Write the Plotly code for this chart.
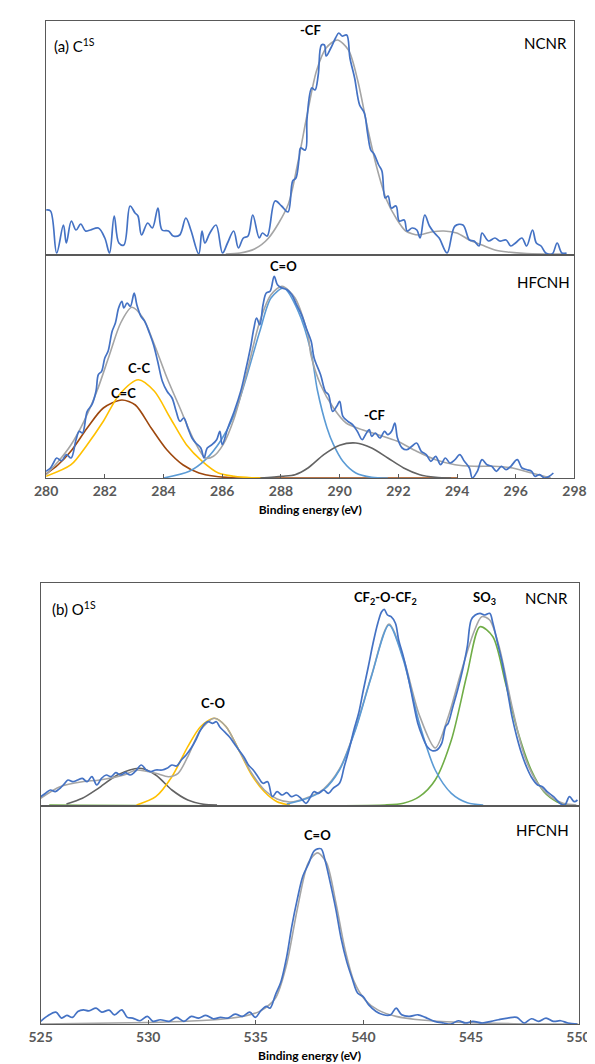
import plotly.graph_objects as go

# ---------------- (a) C1s, NCNR ----------------
a1_E = [280.0, 280.15, 280.36, 280.59, 280.69, 280.86, 281.02, 281.18, 281.34, 281.51, 281.78, 282.0,
        282.16, 282.32, 282.48, 282.65, 282.86, 283.03, 283.13, 283.25, 283.46, 283.62, 283.81, 283.95,
        284.17, 284.33, 284.55, 284.76, 284.93, 285.2, 285.31, 285.41, 285.58, 285.79, 286.01, 286.18,
        286.39, 286.55, 286.72, 286.88, 287.04, 287.26, 287.37, 287.53, 287.8, 288.02, 288.24, 288.4,
        288.51, 288.62, 288.67, 288.83, 288.89, 289.05, 289.16, 289.27, 289.38, 289.48, 289.54, 289.7,
        289.86, 289.97, 290.08, 290.24, 290.35, 290.51, 290.68, 290.84, 290.95, 291.06, 291.17, 291.33,
        291.44, 291.55, 291.65, 291.76, 291.92, 292.03, 292.2, 292.3, 292.47, 292.63, 292.74, 292.9,
        293.06, 293.23, 293.39, 293.66, 293.93, 294.2, 294.42, 294.58, 294.75, 294.85, 295.07, 295.29,
        295.45, 295.67, 295.83, 295.99, 296.21, 296.37, 296.57, 296.7, 296.86, 297.02, 297.24, 297.41,
        297.57, 297.73]
a1_I = [44, 43, 1, 29, 11, 33, 24, 30, 23, 24, 26, 16,
        1, 38, 11, 9, 48, 41, 38, 19, 31, 26, 46, 24,
        23, 18, 19, 36, 24, 0, 23, 11, 21, 29, 1, 11,
        23, 6, 16, 18, 39, 16, 21, 18, 53, 48, 42, 73,
        76, 96, 106, 104, 136, 166, 164, 179, 209, 209, 198, 206,
        216, 221, 218, 219, 196, 176, 149, 141, 121, 104, 100, 89,
        83, 56, 58, 46, 48, 33, 34, 23, 26, 24, 16, 39,
        28, 21, 16, 1, 28, 29, 14, 13, 8, 21, 13, 16,
        13, 14, 8, 11, 16, 8, 24, 11, 8, 1, 0, 11,
        1, 1]
a1_fit_E = [286.12, 286.61, 287.1, 287.58, 288.24, 288.56, 288.89, 289.21, 289.54, 289.92, 290.3,
            290.62, 290.95, 291.27, 291.6, 291.92, 292.25, 292.69, 293.12, 293.55, 293.99, 294.42,
            294.85, 295.29, 295.72, 296.37, 297.68]
a1_fit_I = [0, 1, 5, 16, 49, 89, 139, 183, 206, 214, 204,
            173, 126, 86, 54, 36, 23, 19, 22, 23, 21, 14,
            9, 4, 2, 0.5, 0]

# ---------------- (a) C1s, HFCNH ----------------
a2_E = [280.0, 280.15, 280.25, 280.36, 280.53, 280.69, 280.85, 281.02, 281.13, 281.24, 281.4, 281.56,
        281.7, 281.78, 281.89, 282.0, 282.11, 282.25, 282.36, 282.47, 282.58, 282.65, 282.76, 282.87,
        283.0, 283.09, 283.23, 283.36, 283.52, 283.66, 283.8, 283.96, 284.12, 284.29, 284.43, 284.56,
        284.69, 284.83, 284.97, 285.1, 285.27, 285.38, 285.49, 285.65, 285.81, 285.92, 286.0, 286.19,
        286.41, 286.63, 286.79, 286.96, 287.08, 287.17, 287.28, 287.39, 287.5, 287.63, 287.77, 287.88,
        288.04, 288.21, 288.37, 288.53, 288.7, 288.86, 289.03, 289.13, 289.35, 289.51, 289.62, 289.76,
        289.9, 290.0, 290.11, 290.28, 290.44, 290.6, 290.77, 290.88, 291.01, 291.09, 291.22, 291.37,
        291.53, 291.64, 291.77, 291.88, 291.97, 292.13, 292.29, 292.46, 292.62, 292.78, 292.95, 293.11,
        293.27, 293.44, 293.6, 293.76, 293.93, 294.09, 294.25, 294.42, 294.52, 294.69, 294.85, 295.02,
        295.18, 295.34, 295.51, 295.67, 295.83, 296.05, 296.21, 296.38, 296.54, 296.65, 296.81, 296.98,
        297.14, 297.28]
a2_I = [6.7, 10, 15, 20, 17.3, 23.3, 20, 38.3, 46.7, 45, 66.7, 73.3,
        86.7, 103.3, 106.7, 120, 126.7, 146.7, 155, 170, 176.7, 170, 175, 171.7,
        185, 173.3, 161.7, 156.7, 145, 133.3, 116.7, 96.7, 86.7, 80, 66.7, 56.7,
        60, 50, 40, 35, 30, 20, 30, 33.3, 38.3, 46.7, 33.3, 50,
        66.7, 86.7, 106.7, 130, 150, 160, 153.3, 173.3, 185, 186.7, 201.7, 193.3,
        190, 188.3, 183.3, 173.3, 163.3, 150, 136.7, 120, 103.3, 86.7, 83.3, 66.7,
        71.7, 76.7, 61.7, 56.7, 53.3, 46.7, 38.3, 43.3, 48.3, 41.7, 45, 40,
        46.7, 43.3, 46.7, 55, 40, 30, 28.3, 31.7, 35, 26.7, 23.3, 16.7,
        21.7, 13.3, 20, 15, 18.3, 23.3, 16.7, 10, 0, 6.7, 18.3, 13.3,
        11.7, 6.7, 11.7, 8.3, 11.7, 18.3, 10, 8.3, 6.7, 1.7, 3.3, 0,
        1.7, 5]
a2_fit_E = [280.0, 280.42, 280.85, 281.29, 281.73, 282.16, 282.54, 282.92, 283.3, 283.69, 284.12,
            284.56, 285.0, 285.43, 285.7, 286.03, 286.41, 286.85, 287.28, 287.66, 288.04, 288.48,
            288.92, 289.02, 289.35, 289.79, 290.22, 290.77, 291.31, 291.97, 292.62, 293.27, 293.93,
            294.58, 295.23, 295.89, 296.54, 297.19]
a2_fit_I = [3.3, 16.7, 33.3, 56.7, 86.7, 123.3, 155, 170.7, 160, 133.3, 100,
            70, 40, 20, 21.7, 33.3, 60, 106.7, 156.7, 183.3, 191.7, 180,
            143.3, 123.3, 93.3, 70, 55, 48.3, 43.3, 36.7, 26.7, 18.3, 13.3,
            11.7, 11.7, 10, 5, 0]
a2_CeqC_E = [280.0, 280.4, 280.85, 281.4, 281.95, 282.58, 283.04, 283.58, 284.12, 284.67, 285.21,
             285.75, 286.3, 287.0, 294.0]
a2_CeqC_I = [4, 13, 27, 50, 70, 78, 73, 50, 28, 13, 5,
             1.7, 0.3, 0, 0]
a2_CC_E = [280.0, 280.85, 281.4, 281.95, 282.49, 283.14, 283.69, 284.23, 284.78, 285.32, 285.87,
           286.41, 287.0, 287.6]
a2_CC_I = [1.7, 13.3, 33.3, 56.7, 83.3, 98.3, 86.7, 60, 33.3, 16.7, 5,
           1.7, 0.3, 0]
a2_CO_E = [284.0, 284.88, 285.43, 285.97, 286.41, 286.85, 287.28, 287.66, 288.1, 288.59, 289.02,
           289.24, 289.57, 289.79, 290.11, 290.55, 291.09, 291.64]
a2_CO_I = [0, 6.7, 18.3, 38.3, 63.3, 103.3, 146.7, 180, 190, 166.7, 126.7,
           88, 50, 33.3, 16.7, 5, 0.7, 0]
a2_CF_E = [287.3, 288.04, 288.48, 288.92, 289.46, 290.0, 290.55, 291.09, 291.64, 292.18, 292.73,
           293.27, 293.8]
a2_CF_I = [0, 1.7, 3.3, 10, 23.3, 32.7, 35, 30, 20, 10, 3.3,
           0.7, 0]

# ---------------- (b) O1s, NCNR ----------------
b1_E = [525.0, 525.23, 525.45, 525.68, 525.9, 526.12, 526.27, 526.49, 526.72, 526.94, 527.16, 527.38,
        527.61, 527.83, 528.05, 528.27, 528.49, 528.72, 528.94, 529.16, 529.39, 529.68, 529.91, 530.13,
        530.35, 530.65, 530.87, 531.1, 531.32, 531.54, 531.76, 531.99, 532.21, 532.43, 532.65, 532.8,
        532.99, 533.17, 533.32, 533.54, 533.77, 533.99, 534.21, 534.44, 534.66, 534.88, 535.1, 535.33,
        535.55, 535.77, 535.99, 536.22, 536.44, 536.66, 536.88, 537.1, 537.33, 537.55, 537.7, 537.92,
        538.15, 538.37, 538.59, 538.89, 539.11, 539.33, 539.56, 539.78, 540.0, 540.23, 540.45, 540.67,
        540.85, 540.97, 541.12, 541.29, 541.49, 541.64, 541.86, 542.08, 542.3, 542.53, 542.75, 542.97,
        543.2, 543.42, 543.64, 543.82, 543.94, 544.16, 544.38, 544.61, 544.83, 545.01, 545.2, 545.42,
        545.65, 545.87, 546.02, 546.24, 546.46, 546.69, 546.91, 547.13, 547.35, 547.58, 547.8, 548.1,
        548.32, 548.54, 548.84, 549.14, 549.36, 549.58, 549.8, 549.95]
b1_I = [8.3, 11.7, 15, 13.3, 16.7, 21.7, 25, 23.3, 25, 26.7, 23.3, 28.3,
        20, 26.7, 30, 28.3, 32.3, 30, 32.3, 30, 33.3, 40, 35, 33.3,
        35, 35, 36.7, 40, 39, 45, 50, 56.7, 65, 75, 81.7, 83.3,
        81.7, 83.3, 78.3, 73.3, 68.3, 61.7, 55, 48.3, 40, 35, 28.3, 21.7,
        23.3, 8.3, 13.3, 10, 12.3, 8.3, 10, 6.7, 1.7, 8.3, 13.3, 11.7,
        15, 11.7, 16.7, 21.7, 38.3, 55, 75, 91.7, 115, 138.3, 161.7, 181.7,
        193.3, 195.7, 190, 188.3, 181.7, 165, 148.3, 128.3, 105, 81.7, 68.3, 58.3,
        54.3, 55, 61.7, 78.3, 81.7, 98.3, 115, 135, 158.3, 185, 190, 191.7,
        190, 191.7, 181.7, 161.7, 141.7, 115, 88.3, 68.3, 51.7, 38.3, 28.3, 20,
        18.3, 13.3, 8.3, 1.7, 0, 8.3, 3.3, 5]
b1_fit_E = [525.0, 525.9, 526.94, 527.75, 528.87, 529.46, 530.35, 530.94, 531.39, 531.84, 532.43,
            533.07, 533.62, 534.21, 534.81, 535.4, 535.99, 536.59, 537.41, 538.15, 538.89, 539.63,
            540.37, 541.19, 541.86, 542.6, 543.34, 543.94, 544.53, 545.12, 545.5, 545.87, 546.31,
            546.91, 547.5, 548.1, 548.69, 549.28, 549.9]
b1_fit_I = [6.7, 18.3, 23.3, 25, 30, 35, 31.7, 28.3, 31.7, 48.3, 75,
            86.7, 78.3, 55, 31.7, 15, 6, 3, 7.5, 16, 36, 76,
            129, 181, 147, 90, 57, 88, 132, 172, 188.3, 185, 158.3,
            98.3, 48.3, 21.7, 8.3, 1.7, 0]
b1_peak1_E = [526.2, 526.94, 527.68, 528.57, 529.61, 530.35, 531.1, 531.84, 532.58, 533.2]
b1_peak1_I = [1, 6.7, 16.7, 30, 36.7, 30, 15, 5, 0.7, 0]
b1_CO_E = [529.46, 530.35, 531.1, 531.84, 532.43, 533.07, 533.62, 534.21, 534.81, 535.4, 535.99,
           536.59]
b1_CO_I = [0, 8.3, 28.3, 58.3, 78.3, 86.7, 78.3, 55, 30, 13.3, 3.3,
           0]
b1_CF2_E = [536.44, 537.41, 538.15, 538.89, 539.63, 540.37, 541.19, 541.86, 542.6, 543.34, 544.09,
            544.83, 545.57]
b1_CF2_I = [1, 6.7, 15, 35, 75, 128.3, 180, 145, 81.7, 35, 11.7,
            2.3, 0]
b1_SO3_E = [525.4, 541.0, 541.86, 542.6, 543.34, 544.09, 544.83, 545.42, 546.02, 546.61, 547.2,
            547.8, 548.39, 548.99, 549.28, 549.6]
b1_SO3_I = [0, 0, 1.7, 8.3, 25, 65, 131.7, 178.3, 168.3, 121.7, 71.7,
            35, 13.3, 3.3, 1, 0]

# ---------------- (b) O1s, HFCNH ----------------
b2_E = [525.0, 525.29, 525.71, 525.97, 526.22, 526.48, 526.73, 526.99, 527.24, 527.58, 527.84, 528.18,
        528.43, 528.77, 529.03, 529.28, 529.62, 529.96, 530.22, 530.56, 530.98, 531.32, 531.66, 532.0,
        532.34, 532.68, 533.02, 533.36, 533.7, 534.04, 534.38, 534.72, 534.98, 535.23, 535.49, 535.66,
        535.91, 536.17, 536.42, 536.68, 536.93, 537.19, 537.44, 537.7, 537.87, 538.04, 538.21, 538.46,
        538.72, 538.97, 539.23, 539.48, 539.74, 539.99, 540.25, 540.59, 540.93, 541.27, 541.52, 541.78,
        542.12, 542.54, 542.88, 543.31, 543.73, 544.07, 544.41, 544.75, 545.09, 545.52, 545.94, 546.28,
        546.71, 547.13, 547.47, 547.81, 548.15, 548.49, 548.83, 549.17, 549.51, 549.94]
b2_I = [2.7, 7.7, 12, 6, 8.7, 6.7, 12.7, 14.3, 13.3, 16, 12, 14,
        9.3, 14.3, 6.7, 6, 3.3, 7.7, 2.7, 4.3, 2.7, 6.7, 2.7, 7.7,
        6, 8.7, 5.3, 6.7, 6, 10, 7.7, 12, 6.7, 13.3, 17.7, 16,
        29.3, 42.7, 66, 99.3, 126, 149.3, 161, 174.3, 176.7, 176.7, 166, 142.7,
        116, 86, 62.7, 46, 31, 27.7, 19.3, 12.7, 9.3, 9.3, 16, 9.3,
        7.7, 9.3, 6.7, 2.7, 1, 0, 3.3, 1, 2.7, 1, 2.7, 4.3,
        6, 6.7, 1, 5.3, 2.7, 6, 2.7, 3.3, 1, 0]
b2_fit_E = [525.0, 530.0, 532.0, 533.5, 534.5, 535.2, 535.91, 536.42, 536.93, 537.44, 537.87,
            538.29, 538.72, 539.14, 539.57, 540.08, 540.67, 541.52, 542.71, 544.41, 546.97, 550.0]
b2_fit_I = [0, 1.5, 3, 5, 8, 13, 26, 59, 116, 162.7, 172.7,
            162.7, 122.7, 76, 42.7, 24.3, 14.3, 7.7, 4, 1.7, 0.3, 0]

# tick labels
a_ticks = [280, 282, 284, 286, 288, 290, 292, 294, 296, 298]
b_ticks = [525, 530, 535, 540, 545, 550]

BLUE = "#4472C4"
ENV = "#A5A5A5"
FONT = "Lato"
AXC = "#595959"

fig = go.Figure()


def add(x, y, color, xa, ya, width=1.6, smooth=0.8):
    fig.add_trace(go.Scatter(x=x, y=y, mode="lines", xaxis=xa, yaxis=ya,
                             line=dict(color=color, width=width, shape="spline", smoothing=smooth),
                             showlegend=False, hoverinfo="skip"))


# panel a1
add(a1_fit_E, a1_fit_I, ENV, "x", "y")
add(a1_E, a1_I, BLUE, "x", "y", 1.7, 1.0)
# panel a2
add(a2_CeqC_E, a2_CeqC_I, "#9E480E", "x2", "y2")
add(a2_CC_E, a2_CC_I, "#FFC000", "x2", "y2")
add(a2_CO_E, a2_CO_I, "#5B9BD5", "x2", "y2")
add(a2_CF_E, a2_CF_I, "#636363", "x2", "y2")
add(a2_fit_E, a2_fit_I, ENV, "x2", "y2")
add(a2_E, a2_I, BLUE, "x2", "y2", 1.7, 1.0)
# panel b1
add(b1_SO3_E, b1_SO3_I, "#70AD47", "x3", "y3")
add(b1_peak1_E, b1_peak1_I, "#636363", "x3", "y3")
add(b1_CO_E, b1_CO_I, "#FFC000", "x3", "y3")
add(b1_fit_E, b1_fit_I, ENV, "x3", "y3")
add(b1_CF2_E, b1_CF2_I, "#5B9BD5", "x3", "y3")
add(b1_E, b1_I, BLUE, "x3", "y3", 1.7, 1.0)
# panel b2
add(b2_fit_E, b2_fit_I, ENV, "x4", "y4")
add(b2_E, b2_I, BLUE, "x4", "y4", 1.7, 1.0)

H = 1064.0
W = 595.0


def ydom(top, bottom):
    return [1 - bottom / H, 1 - top / H]


box = dict(showline=True, mirror=True, linecolor=AXC, linewidth=1.2, showgrid=False, zeroline=False)
xa_dom = [27.2 / W, 577.8 / W]
xb_dom = [21.5 / W, 582.0 / W]

tickfont = dict(family=FONT, size=14, color=AXC, weight="bold")
titlefont = dict(family=FONT, size=12, color="black", weight="bold")

fig.update_layout(
    width=595, height=1064, margin=dict(l=0, r=0, t=0, b=0),
    paper_bgcolor="white", plot_bgcolor="white",
    xaxis=dict(domain=xa_dom, range=[280, 298], anchor="y", showticklabels=False, ticks="", **box),
    yaxis=dict(domain=ydom(13, 246), range=[0, 233], anchor="x", showticklabels=False, ticks="", **box),
    xaxis2=dict(domain=xa_dom, range=[280, 298], anchor="y2", tickvals=a_ticks, ticks="inside",
                ticklen=4, tickcolor=AXC, tickfont=tickfont, ticklabelstandoff=0,
                title=dict(text="Binding energy (eV)", font=titlefont, standoff=7), **box),
    yaxis2=dict(domain=ydom(248, 470), range=[0, 222], anchor="x2", showticklabels=False, ticks="", **box),
    xaxis3=dict(domain=xb_dom, range=[525, 550], anchor="y3", showticklabels=False, ticks="", **box),
    yaxis3=dict(domain=ydom(575, 797), range=[0, 222], anchor="x3", showticklabels=False, ticks="", **box),
    xaxis4=dict(domain=xb_dom, range=[525, 550], anchor="y4", tickvals=b_ticks, ticks="inside",
                ticklen=4, tickcolor=AXC, tickfont=tickfont, ticklabelstandoff=0,
                title=dict(text="Binding energy (eV)", font=titlefont, standoff=7), **box),
    yaxis4=dict(domain=ydom(799, 1016), range=[0, 219], anchor="x4", showticklabels=False, ticks="", **box),
)


def label(text, x, y, xr, yr, bold=True, size=13, xanchor="center"):
    fig.add_annotation(text=text, x=x, y=y, xref=xr, yref=yr, showarrow=False, xanchor=xanchor,
                       yanchor="middle",
                       font=dict(family=FONT, size=size, color="black", weight="bold" if bold else "normal"))


label("(a) C<sup>1S</sup>", 280.2, 208, "x", "y", bold=False, size=15, xanchor="left")
label("NCNR", 297.8, 211, "x", "y", bold=False, size=15, xanchor="right")
label("-CF", 289.0, 224, "x", "y")
label("C=O", 288.1, 212, "x2", "y2")
label("HFCNH", 297.9, 196, "x2", "y2", bold=False, size=15, xanchor="right")
label("C-C", 283.15, 110, "x2", "y2")
label("C=C", 282.62, 85, "x2", "y2")
label("-CF", 291.2, 63, "x2", "y2")
label("(b) O<sup>1S</sup>", 525.45, 197, "x3", "y3", bold=False, size=15, xanchor="left")
label("C-O", 533.03, 102, "x3", "y3")
label("CF<sub>2</sub>-O-CF<sub>2</sub>", 541.04, 207, "x3", "y3")
label("SO<sub>3</sub>", 545.64, 207, "x3", "y3")
label("NCNR", 549.6, 207, "x3", "y3", bold=False, size=15, xanchor="right")
label("C=O", 537.85, 191, "x4", "y4")
label("HFCNH", 549.65, 196, "x4", "y4", bold=False, size=15, xanchor="right")

fig.write_html("out.html")
